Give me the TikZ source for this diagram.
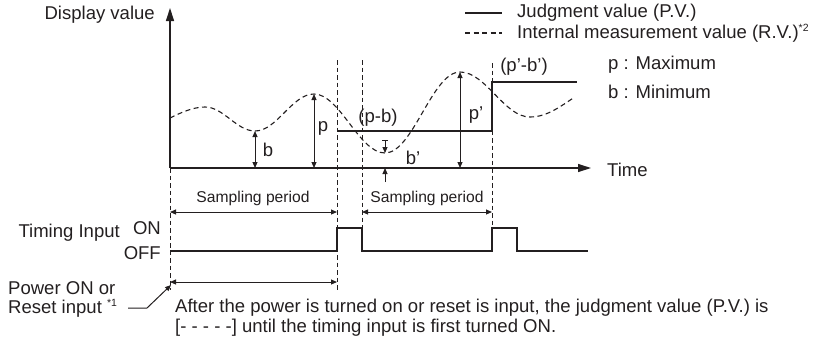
\documentclass[tikz,border=0pt]{standalone}
\usepackage{fontspec}
\setmainfont{Liberation Sans}
\usetikzlibrary{arrows.meta}
\definecolor{ink}{RGB}{35,31,32}
\newcommand{\supst}[1]{\raisebox{0.75ex}{\fontsize{10.5}{10.5}\selectfont #1}}
\tikzset{
  lbl/.style={inner sep=0pt, text=ink, font=\fontsize{18.6}{22}\selectfont},
  small/.style={inner sep=0pt, text=ink, font=\fontsize{15.7}{18}\selectfont},
  axisline/.style={draw=ink, line width=1.3bp},
  sig/.style={draw=ink, line width=1.2bp},
  rv/.style={draw=ink, line width=1.1bp, dash pattern=on 5bp off 3.5bp},
  guide/.style={draw=ink, line width=1bp, dash pattern=on 4.5bp off 3bp},
  dim/.style={draw=ink, line width=1bp, {Triangle[length=6bp,width=5bp]}-{Triangle[length=6bp,width=5bp]}},
  dimto/.style={draw=ink, line width=1bp, -{Triangle[length=6bp,width=5bp]}},
  bigtip/.style={-{Triangle[length=13bp,width=8bp]}}
}
\begin{document}
\begin{tikzpicture}[x=1bp,y=-1bp]
\useasboundingbox (0,0) rectangle (820,340);
% coordinates
\coordinate (O) at (170,168);
\coordinate (Ytop) at (170,8);
\coordinate (Xend) at (591,168);
% axes
\draw[axisline, bigtip] (O) -- (Ytop);
\draw[axisline, bigtip] (O) -- (Xend);
\node[lbl, anchor=east] (dv) at (155,15) {Display value};
\node[lbl, anchor=west] (time) at (607,170) {Time};
% legend
\coordinate (L1a) at (465,13); \coordinate (L1b) at (502,13);
\coordinate (L2a) at (465,33); \coordinate (L2b) at (502,33);
\draw[sig] (L1a) -- (L1b);
\draw[rv] (L2a) -- (L2b);
\node[lbl, anchor=west] (leg1) at (517,13) {Judgment value (P.V.)};
\node[lbl, anchor=west] (leg2) at (517,33) {Internal measurement value (R.V.)\supst{*2}};
\node[lbl, anchor=west] (pmax) at (608,65) {p : Maximum};
\node[lbl, anchor=west] (bmin) at (608,92) {b : Minimum};
% guide lines (dashed verticals)
\coordinate (g0t) at (170,168); \coordinate (g0b) at (170,290);
\coordinate (g1t) at (337,60); \coordinate (g1b) at (337,290);
\coordinate (g2t) at (362,60); \coordinate (g2b) at (362,228);
\coordinate (g3t) at (492,63); \coordinate (g3b) at (492,228);
\draw[guide] (g0t) -- (g0b);
\draw[guide] (g1t) -- (g1b);
\draw[guide] (g2t) -- (g2b);
\draw[guide] (g3t) -- (g3b);
% internal measurement curve
\draw[rv] (170,118) .. controls (180,113) and (193,107) .. (205,107)
  .. controls (223.5,107) and (236.5,131) .. (255,131)
  .. controls (277,131) and (292,94) .. (314,94)
  .. controls (340,94) and (359,153) .. (385,153)
  .. controls (413,153) and (432,72) .. (460,72)
  .. controls (486,72) and (504,117) .. (530,117)
  .. controls (548,117) and (562,105) .. (575,97);
% judgment value
\coordinate (j1) at (337,131); \coordinate (j2) at (492,131);
\coordinate (j3) at (492,82); \coordinate (j4) at (577,82);
\draw[sig] (j1) -- (j2) -- (j3) -- (j4);
% dimension arrows
\coordinate (bt) at (255,131); \coordinate (bb) at (255,168);
\coordinate (pt) at (314,94); \coordinate (pb) at (314,168);
\coordinate (ppt) at (460,72); \coordinate (ppb) at (460,168);
\draw[dim] (bt) -- (bb);
\draw[dim] (pt) -- (pb);
\draw[dim] (ppt) -- (ppb);
\coordinate (b1s) at (385,140); \coordinate (b1e) at (385,153);
\coordinate (b2s) at (385,182); \coordinate (b2e) at (385,168);
\draw[dimto] (b1s) -- (b1e);
\draw[draw=ink, line width=1bp] ([xshift=-3bp]b1s) -- ([xshift=3bp]b1s);
\draw[dimto] (b2s) -- (b2e);
\node[lbl] (lb) at (268,150) {b};
\node[lbl] (lp) at (323,128) {p};
\node[lbl] (lpb) at (378,118) {(p-b)};
\node[lbl] (lpp) at (476,115) {p'};
\node[lbl] (lbp) at (413,158) {b'};
\node[lbl] (lppbp) at (524,67) {(p'-b')};
% sampling periods
\coordinate (s1a) at (170,212); \coordinate (s1b) at (337,212);
\coordinate (s2a) at (362,212); \coordinate (s2b) at (492,212);
\draw[dim] (s1a) -- (s1b);
\draw[dim] (s2a) -- (s2b);
\node[small] (sp1) at (253,198) {Sampling period};
\node[small] (sp2) at (427,198) {Sampling period};
% timing input
\draw[sig] (170,251) -- (337,251) -- (337,228) -- (362,228) -- (362,251)
  -- (492,251) -- (492,228) -- (517,228) -- (517,251) -- (588,251);
\node[lbl, anchor=east] (ti) at (120,233) {Timing Input};
\node[lbl, anchor=east] (on) at (161,228) {ON};
\node[lbl, anchor=east] (off) at (161,253) {OFF};
% power on
\coordinate (pa) at (170,282); \coordinate (pbb) at (337,282);
\draw[dim] (pa) -- (pbb);
\node[lbl, anchor=west] (pw1) at (8,288) {Power ON or};
\node[lbl, anchor=west] (pw2) at (8,308) {Reset input \supst{*1}};
\coordinate (ld1) at (128,308); \coordinate (ld2) at (147,308);
\coordinate (ld3) at (171,285);
\draw[draw=ink, line width=1bp, -{Triangle[length=6bp,width=5bp]}] (ld1) -- (ld2) -- (ld3);
\node[lbl, anchor=west] (note1) at (175,308) {After the power is turned on or reset is input, the judgment value (P.V.) is};
\node[lbl, anchor=west] (note2) at (175,328) {[- - - - -] until the timing input is first turned ON.};
\end{tikzpicture}
\end{document}
